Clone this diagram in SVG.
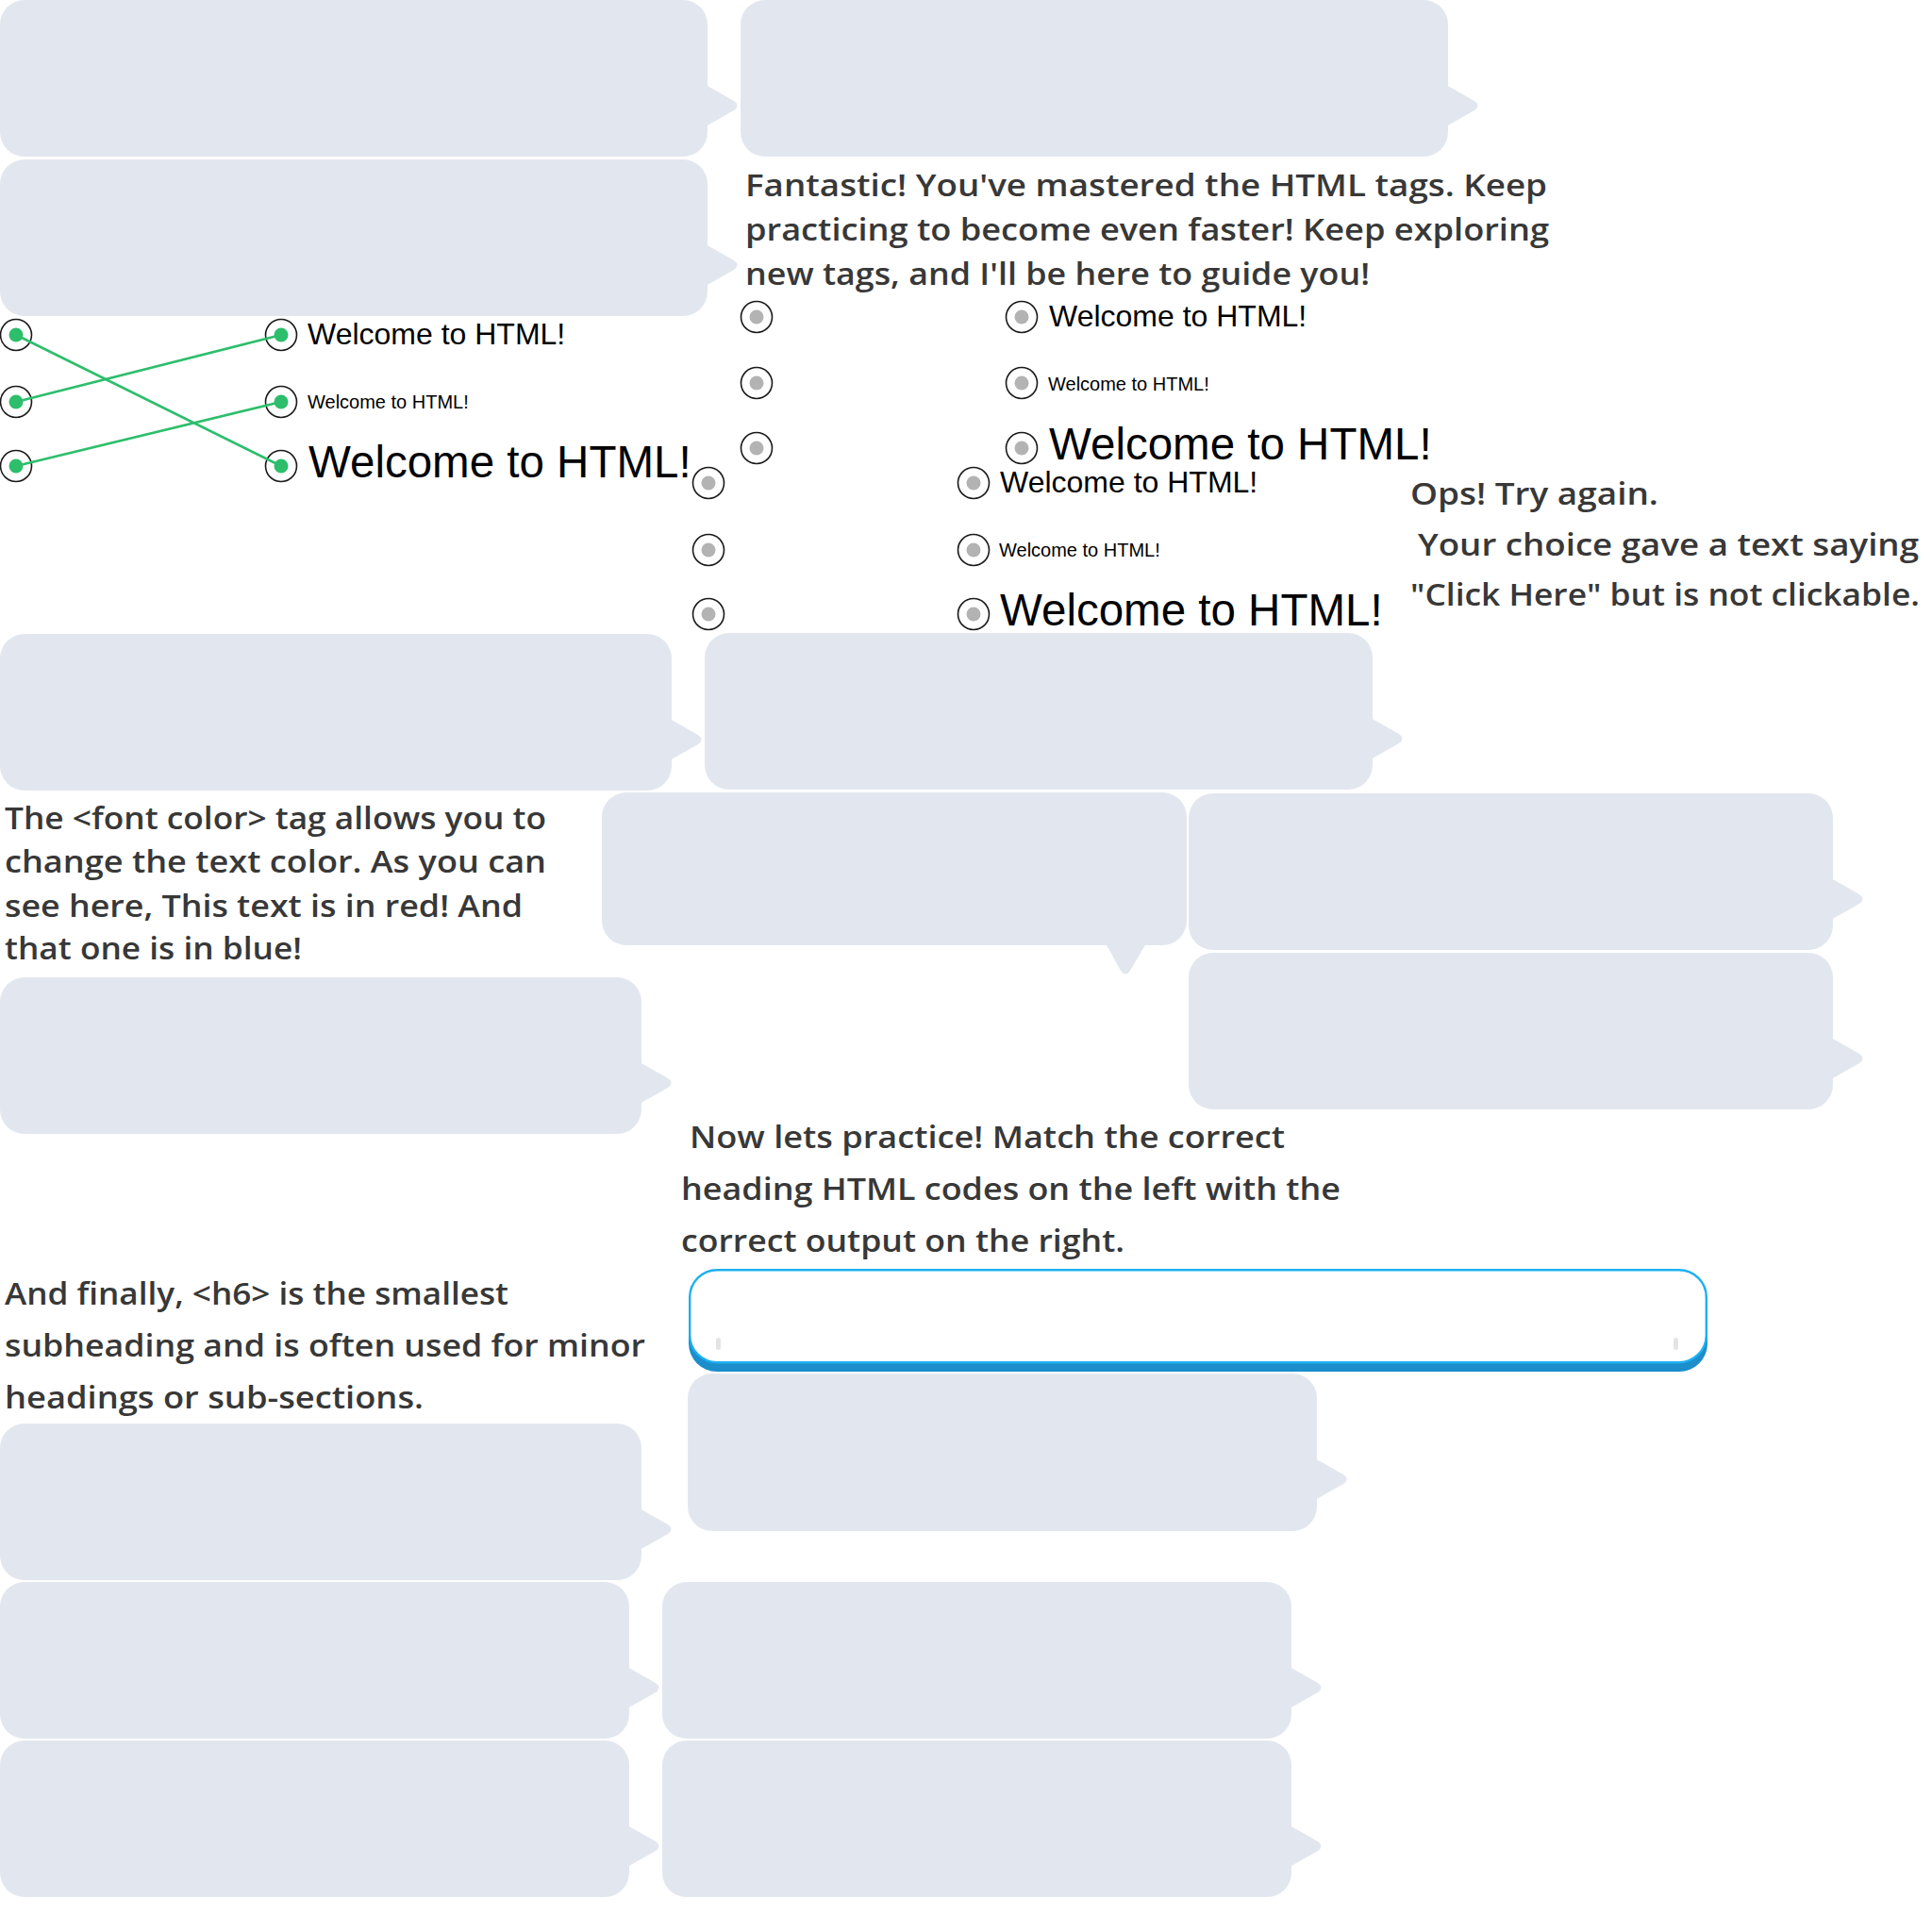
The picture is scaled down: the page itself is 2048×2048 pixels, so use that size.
<svg xmlns="http://www.w3.org/2000/svg" width="2048" height="2048" viewBox="0 0 2048 2048">
<style>
.bub{fill:#e2e7ef}
.para{font-family:"Open Sans","Noto Sans","Liberation Sans",sans-serif;font-size:33px;font-weight:600;fill:#383838}
.opt{font-family:"Liberation Sans",Arial,sans-serif;fill:#000}
.ring{fill:#fff;stroke:#1a1a1a;stroke-width:1.6}
.on{fill:#2dbe6c}
.off{fill:#b3b3b3}
.link{stroke:#2dbe6c;stroke-width:2.6;fill:none;stroke-linecap:round}
</style>
<rect width="2048" height="2048" fill="#fff"/>

<g id="bubble1"><rect class="bub" x="0" y="0" width="750" height="166" rx="26"/><path class="bub" d="M748,90 L778,107 Q785,112 778,117 L748,134 Z"/></g>
<g id="bubble2"><rect class="bub" x="0" y="169" width="750" height="166" rx="26"/><path class="bub" d="M748,259 L778,276 Q785,281 778,286 L748,303 Z"/></g>
<g id="bubble3"><rect class="bub" x="785" y="0" width="750" height="166" rx="26"/><path class="bub" d="M1533,90 L1563,107 Q1570,112 1563,117 L1533,134 Z"/></g>
<g id="bubble4"><rect class="bub" x="0" y="672" width="712" height="166" rx="26"/><path class="bub" d="M710,762 L740,779 Q747,784 740,789 L710,806 Z"/></g>
<g id="bubble5"><rect class="bub" x="747" y="671" width="708" height="166" rx="26"/><path class="bub" d="M1453,761 L1483,778 Q1490,783 1483,788 L1453,805 Z"/></g>
<g id="bubble6"><rect class="bub" x="638" y="840" width="620" height="162" rx="26"/><path class="bub" d="M1172,1000 L1188,1029 Q1193,1036 1198,1029 L1215,1000 Z"/></g>
<g id="bubble7"><rect class="bub" x="1260" y="841" width="683" height="166" rx="26"/><path class="bub" d="M1941,931 L1971,948 Q1978,953 1971,958 L1941,975 Z"/></g>
<g id="bubble8"><rect class="bub" x="1260" y="1010" width="683" height="166" rx="26"/><path class="bub" d="M1941,1100 L1971,1117 Q1978,1122 1971,1127 L1941,1144 Z"/></g>
<g id="bubble9"><rect class="bub" x="0" y="1036" width="680" height="166" rx="26"/><path class="bub" d="M678,1126 L708,1143 Q715,1148 708,1153 L678,1170 Z"/></g>
<g id="bubble10"><rect class="bub" x="729" y="1456" width="667" height="167" rx="26"/><path class="bub" d="M1394,1546 L1424,1563 Q1431,1568 1424,1573 L1394,1590 Z"/></g>
<g id="bubble11"><rect class="bub" x="0" y="1509" width="680" height="166" rx="26"/><path class="bub" d="M678,1599 L708,1616 Q715,1621 708,1626 L678,1643 Z"/></g>
<g id="bubble12"><rect class="bub" x="0" y="1677" width="667" height="166" rx="26"/><path class="bub" d="M665,1767 L695,1784 Q702,1789 695,1794 L665,1811 Z"/></g>
<g id="bubble13"><rect class="bub" x="702" y="1677" width="667" height="166" rx="26"/><path class="bub" d="M1367,1767 L1397,1784 Q1404,1789 1397,1794 L1367,1811 Z"/></g>
<g id="bubble14"><rect class="bub" x="0" y="1845" width="667" height="166" rx="26"/><path class="bub" d="M665,1935 L695,1952 Q702,1957 695,1962 L665,1979 Z"/></g>
<g id="bubble15"><rect class="bub" x="702" y="1845" width="667" height="166" rx="26"/><path class="bub" d="M1367,1935 L1397,1952 Q1404,1957 1397,1962 L1367,1979 Z"/></g>

<g id="text-fantastic" class="para">
<text x="790" y="208" textLength="850" lengthAdjust="spacingAndGlyphs">Fantastic! You've mastered the HTML tags. Keep</text>
<text x="790" y="255" textLength="852" lengthAdjust="spacingAndGlyphs">practicing to become even faster! Keep exploring</text>
<text x="790" y="302" textLength="662" lengthAdjust="spacingAndGlyphs">new tags, and I'll be here to guide you!</text>
</g>

<g id="text-ops" class="para">
<text x="1495" y="535" textLength="263" lengthAdjust="spacingAndGlyphs">Ops! Try again.</text>
<text x="1503" y="589" textLength="531" lengthAdjust="spacingAndGlyphs">Your choice gave a text saying</text>
<text x="1495" y="642" textLength="540" lengthAdjust="spacingAndGlyphs">"Click Here" but is not clickable.</text>
</g>

<g id="text-fontcolor" class="para">
<text x="5" y="879" textLength="574" lengthAdjust="spacingAndGlyphs">The &lt;font color&gt; tag allows you to</text>
<text x="5" y="925" textLength="574" lengthAdjust="spacingAndGlyphs">change the text color. As you can</text>
<text x="5" y="972" textLength="549" lengthAdjust="spacingAndGlyphs">see here, This text is in red! And</text>
<text x="5" y="1017" textLength="315" lengthAdjust="spacingAndGlyphs">that one is in blue!</text>
</g>

<g id="text-practice" class="para">
<text x="731" y="1217" textLength="631" lengthAdjust="spacingAndGlyphs">Now lets practice! Match the correct</text>
<text x="722" y="1272" textLength="699" lengthAdjust="spacingAndGlyphs">heading HTML codes on the left with the</text>
<text x="722" y="1327" textLength="470" lengthAdjust="spacingAndGlyphs">correct output on the right.</text>
</g>

<g id="text-h6" class="para">
<text x="5" y="1383" textLength="534" lengthAdjust="spacingAndGlyphs">And finally, &lt;h6&gt; is the smallest</text>
<text x="5" y="1438" textLength="679" lengthAdjust="spacingAndGlyphs">subheading and is often used for minor</text>
<text x="5" y="1493" textLength="444" lengthAdjust="spacingAndGlyphs">headings or sub-sections.</text>
</g>

<g id="input-box">
<rect x="730" y="1350" width="1080" height="104" rx="30" fill="#1b8ecb"/>
<rect x="731.2" y="1346.2" width="1077.6" height="98" rx="29" fill="#fff" stroke="#1eb0f0" stroke-width="2.4"/>
<rect x="759" y="1418" width="5" height="13" rx="2.5" fill="#e4e4e4"/>
<rect x="1774" y="1418" width="5" height="13" rx="2.5" fill="#e4e4e4"/>
</g>

<!-- matching widget 1 -->
<g id="m1-left1"><circle class="ring" cx="17" cy="355" r="16.5"/><circle class="on" cx="17" cy="355" r="7.5"/></g>
<g id="m1-left2"><circle class="ring" cx="17" cy="426" r="16.5"/><circle class="on" cx="17" cy="426" r="7.5"/></g>
<g id="m1-left3"><circle class="ring" cx="17" cy="494" r="16.5"/><circle class="on" cx="17" cy="494" r="7.5"/></g>
<g id="m1-right1"><circle class="ring" cx="298" cy="355" r="16.5"/><circle class="on" cx="298" cy="355" r="7.5"/><text class="opt" x="326" y="365" font-size="32">Welcome to HTML!</text></g>
<g id="m1-right2"><circle class="ring" cx="298" cy="426" r="16.5"/><circle class="on" cx="298" cy="426" r="7.5"/><text class="opt" x="326" y="433" font-size="20">Welcome to HTML!</text></g>
<g id="m1-right3"><circle class="ring" cx="298" cy="494" r="16.5"/><circle class="on" cx="298" cy="494" r="7.5"/><text class="opt" x="327" y="506" font-size="47.5">Welcome to HTML!</text></g>

<!-- matching widget 2 -->
<g id="m2-left1"><circle class="ring" cx="802" cy="336" r="16.5"/><circle class="off" cx="802" cy="336" r="7.5"/></g>
<g id="m2-left2"><circle class="ring" cx="802" cy="406" r="16.5"/><circle class="off" cx="802" cy="406" r="7.5"/></g>
<g id="m2-left3"><circle class="ring" cx="802" cy="475" r="16.5"/><circle class="off" cx="802" cy="475" r="7.5"/></g>
<g id="m2-right1"><circle class="ring" cx="1083" cy="336" r="16.5"/><circle class="off" cx="1083" cy="336" r="7.5"/><text class="opt" x="1112" y="346" font-size="32">Welcome to HTML!</text></g>
<g id="m2-right2"><circle class="ring" cx="1083" cy="406" r="16.5"/><circle class="off" cx="1083" cy="406" r="7.5"/><text class="opt" x="1111" y="414" font-size="20">Welcome to HTML!</text></g>
<g id="m2-right3"><circle class="ring" cx="1083" cy="475" r="16.5"/><circle class="off" cx="1083" cy="475" r="7.5"/><text class="opt" x="1112" y="487" font-size="47.5">Welcome to HTML!</text></g>

<!-- matching widget 3 -->
<g id="m3-left1"><circle class="ring" cx="751" cy="512" r="16.5"/><circle class="off" cx="751" cy="512" r="7.5"/></g>
<g id="m3-left2"><circle class="ring" cx="751" cy="583" r="16.5"/><circle class="off" cx="751" cy="583" r="7.5"/></g>
<g id="m3-left3"><circle class="ring" cx="751" cy="651" r="16.5"/><circle class="off" cx="751" cy="651" r="7.5"/></g>
<g id="m3-right1"><circle class="ring" cx="1032" cy="512" r="16.5"/><circle class="off" cx="1032" cy="512" r="7.5"/><text class="opt" x="1060" y="522" font-size="32">Welcome to HTML!</text></g>
<g id="m3-right2"><circle class="ring" cx="1032" cy="583" r="16.5"/><circle class="off" cx="1032" cy="583" r="7.5"/><text class="opt" x="1059" y="590" font-size="20">Welcome to HTML!</text></g>
<g id="m3-right3"><circle class="ring" cx="1032" cy="651" r="16.5"/><circle class="off" cx="1032" cy="651" r="7.5"/><text class="opt" x="1060" y="663" font-size="47.5">Welcome to HTML!</text></g>

<g id="connectors">
<line class="link" x1="17" y1="355" x2="298" y2="494"/>
<line class="link" x1="17" y1="426" x2="298" y2="355"/>
<line class="link" x1="17" y1="494" x2="298" y2="426"/>
</g>
</svg>
